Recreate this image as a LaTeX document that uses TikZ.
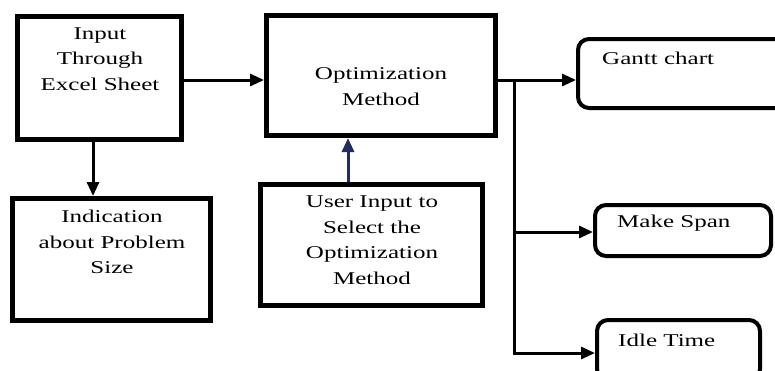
\documentclass[tikz,border=0pt]{standalone}
\usepackage{fontspec}
\setmainfont{Liberation Serif}[FakeStretch=1.39]
\usetikzlibrary{arrows.meta}
\definecolor{navy}{RGB}{31,45,96}
\tikzset{
  sqbox/.style={draw=black, line width=5pt, rectangle, inner sep=0pt},
  rdbox/.style={draw=black, line width=4pt, rectangle, rounded corners=11pt, inner sep=0pt},
  lbl/.style={align=center, inner sep=0pt, font=\fontsize{18}{25.5}\selectfont},
  lbll/.style={anchor=west, inner sep=0pt, font=\fontsize{18}{25.5}\selectfont},
  link/.style={line width=3pt, line join=miter},
  arr/.style={link, -{Triangle[length=14pt,width=12pt]}},
}
\begin{document}
\begin{tikzpicture}[x=1pt, y=-1pt]
\useasboundingbox (0,0) rectangle (775,370);
\clip (0,0) rectangle (775,370);

% left-hand and centre boxes
\node[sqbox, minimum width=164pt, minimum height=123pt] (A) at (99.5,78) {};
\node[sqbox, minimum width=229pt, minimum height=120pt] (B) at (381,75.5) {};
\node[sqbox, minimum width=198pt, minimum height=122pt] (C) at (111.5,259.5) {};
\node[sqbox, minimum width=222pt, minimum height=121pt] (D) at (371.5,245) {};

% result boxes
\node[rdbox, minimum width=212pt, minimum height=69pt] (G) at (684,73.5) {};
\node[rdbox, minimum width=176pt, minimum height=51pt] (M) at (683,230.5) {};
\node[rdbox, minimum width=163pt, minimum height=60pt] (I) at (678.5,350) {};

% texts
\node[lbl] (tA) at (100,59) {Input\\Through\\Excel Sheet};
\node[lbl] (tB) at (381,86.5) {Optimization\\Method};
\node[lbl] (tC) at (112,242) {Indication\\about Problem\\Size};
\node[lbl] (tD) at (372,240) {User Input to\\Select the\\Optimization\\Method};
\node[lbll] (tG) at (602,58) {Gantt chart};
\node[lbll] (tM) at (617,223) {Make Span};
\node[lbll] (tI) at (618,340) {Idle Time};

% connectors
\draw[arr] ([yshift=-2pt]A.east) -- ([yshift=-2pt]A.east -| B.west);
\draw[arr] (A.south -| 93,0) -- (C.north -| 93,0);
\draw[arr, navy] (D.north -| 348,0) -- (B.south -| 348,0);

\coordinate (t) at (514,80);
\coordinate (m) at (514,232);
\coordinate (i) at (514,353);
\draw[arr] (B.east |- t) -- (G.west |- t);
\draw[arr] (t) -- (i) -- (I.west |- i);
\draw[arr] (m) -- (M.west |- m);
\end{tikzpicture}
\end{document}
